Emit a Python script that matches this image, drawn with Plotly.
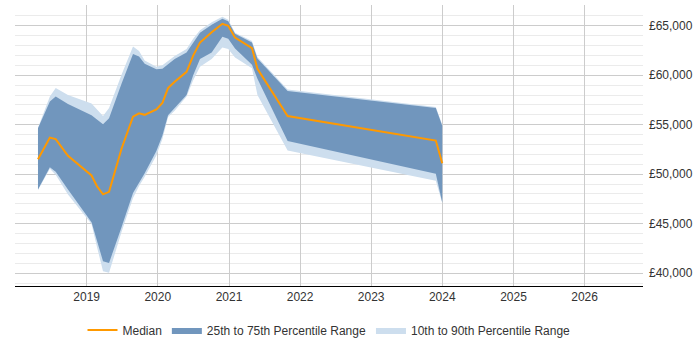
import plotly.graph_objects as go

dates = ["2018-04-26", "2018-06-26", "2018-07-26", "2018-09-27", "2019-01-26",
         "2019-02-23", "2019-03-26", "2019-04-26", "2019-06-29", "2019-08-27",
         "2019-09-27", "2019-10-26", "2019-12-25", "2020-01-25", "2020-02-23",
         "2020-03-28", "2020-05-28", "2020-07-01", "2020-08-05", "2020-10-04",
         "2020-11-28", "2020-12-28", "2021-02-01", "2021-04-29", "2021-05-27",
         "2021-10-29", "2023-11-29", "2024-01-01"]

p90 = [54700, 57850, 58700, 58000, 57150, 56500, 55880, 56700, 60050, 62900,
       62450, 61500, 60850, 61000, 61400, 61950, 62650, 63700, 64550, 65350,
       65900, 65600, 64300, 63450, 61850, 58550, 56800, 55000]
p75 = [54650, 57350, 57850, 57100, 55950, 55500, 55050, 55650, 59150, 62150,
       61900, 61150, 60600, 60650, 61150, 61650, 62300, 63350, 64300, 65100,
       65700, 65450, 64200, 63300, 61700, 58400, 56700, 54900]
median = [51500, 53700, 53550, 51850, 49870, 48780, 47960, 48220, 52570, 55810,
          56150, 56000, 56550, 57200, 58700, 59350, 60350, 61980, 63300, 64350,
          65200, 65000, 63800, 62750, 60650, 55880, 53400, 51100]
p25 = [48450, 50700, 50250, 48450, 45150, 43350, 41200, 41030, 44650, 48100,
       49100, 50100, 52350, 53900, 55950, 56700, 58000, 60000, 61650, 62300,
       63900, 63700, 62700, 61050, 59650, 53350, 50050, 47150]
p10 = [48400, 50550, 49950, 47950, 44970, 42650, 40200, 40040, 44150, 47600,
       48800, 49750, 51900, 53550, 55780, 56400, 57850, 59500, 60850, 61650,
       62800, 62650, 61800, 60700, 58000, 52400, 49350, 47100]

year_ticks = ["2019-01-01", "2020-01-01", "2021-01-01", "2022-01-01",
              "2023-01-01", "2024-01-01", "2025-01-01", "2026-01-01"]
year_labels = ["2019", "2020", "2021", "2022", "2023", "2024", "2025", "2026"]

LIGHT = "#cddeee"
DARK = "#7196bd"
ORANGE = "#ff9900"

fig = go.Figure()
fig.add_trace(go.Scatter(
    x=dates + dates[::-1], y=p90 + p10[::-1], fill="toself", fillcolor=LIGHT,
    line=dict(width=0), mode="lines", name="10th to 90th Percentile Range",
    hoverinfo="skip"))
fig.add_trace(go.Scatter(
    x=dates + dates[::-1], y=p75 + p25[::-1], fill="toself", fillcolor=DARK,
    line=dict(width=0), mode="lines", name="25th to 75th Percentile Range",
    hoverinfo="skip"))
fig.add_trace(go.Scatter(
    x=dates, y=median, mode="lines", line=dict(color=ORANGE, width=2),
    name="Median"))

fig.update_layout(
    width=700, height=350,
    margin=dict(l=15, r=57, t=5, b=58),
    paper_bgcolor="white", plot_bgcolor="white",
    font=dict(family="Liberation Sans, Arial, sans-serif", size=12, color="#333"),
    showlegend=True,
    legend=dict(orientation="h", x=0.5, xanchor="center", y=-0.105, yanchor="top",
                traceorder="reversed", font=dict(size=12, color="#333"),
                itemwidth=30),
    xaxis=dict(type="date", range=["2017-12-29", "2026-10-28"],
               tickvals=year_ticks, ticktext=year_labels,
               showgrid=True, gridcolor="#cccccc", gridwidth=1,
               showline=True, linecolor="#000000", linewidth=1,
               ticks="", zeroline=False, tickfont=dict(size=12, color="#333")),
    yaxis=dict(side="right", range=[38700, 67100], dtick=5000, tick0=40000,
               tickprefix="£", tickformat=",d",
               showgrid=True, gridcolor="#cccccc", gridwidth=1,
               minor=dict(dtick=1000, showgrid=True, gridcolor="#ebebeb"),
               showline=False, zeroline=False, ticks="",
               ticklabelstandoff=5,
               tickfont=dict(size=12, color="#333")),
)

fig.write_html("out.html")
